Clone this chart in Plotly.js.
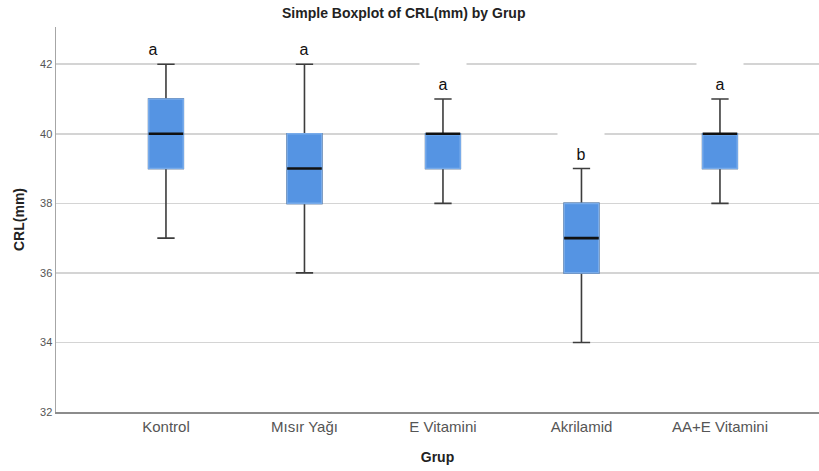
<!DOCTYPE html>
<html>
<head>
<meta charset="utf-8">
<script src="https://cdn.plot.ly/plotly-3.0.1.min.js"></script>
<style>html,body{margin:0;padding:0;background:#fff;}#chart{width:819px;height:471px;}</style>
</head>
<body>
<div id="chart"></div>
<script>
// Data
const categories = ["Kontrol", "Mısır Yağı", "E Vitamini", "Akrilamid", "AA+E Vitamini"];
const lowerWhisker = [37, 36, 38, 34, 38];
const q1Values     = [39, 38, 39, 36, 39];
const medians      = [40, 39, 40, 37, 40];
const q3Values     = [41, 40, 40, 38, 40];
const upperWhisker = [42, 42, 41, 39, 41];
const groupLetters = ["a", "a", "a", "b", "a"];

const boxFill = "#5594e3";
const boxEdge = "#78abea";
const whiskerColor = "#3d3d3d";
const boxWidth = 0.25;

// Trace A: whiskers + caps (dark)
const whiskers = {
  type: "box", x: categories,
  q1: q1Values, median: medians, q3: q3Values,
  lowerfence: lowerWhisker, upperfence: upperWhisker,
  width: boxWidth, whiskerwidth: 0.5,
  fillcolor: boxFill, line: {color: whiskerColor, width: 1.6},
  boxpoints: false, hoverinfo: "skip", showlegend: false
};
// Trace B: box body with light edge
const bodies = {
  type: "box", x: categories,
  q1: q1Values, median: medians, q3: q3Values,
  lowerfence: q1Values, upperfence: q3Values,
  width: boxWidth, whiskerwidth: 0,
  fillcolor: boxFill, line: {color: boxEdge, width: 1.6},
  boxpoints: false, hoverinfo: "skip", showlegend: false
};
// Trace C: black median line
const medianLines = {
  type: "box", x: categories,
  q1: medians, median: medians, q3: medians,
  lowerfence: medians, upperfence: medians,
  width: boxWidth, whiskerwidth: 0,
  fillcolor: "rgba(0,0,0,0)", line: {color: "#111111", width: 2.6},
  boxpoints: false, hoverinfo: "skip", showlegend: false
};

const annotations = groupLetters.map((t, i) => ({
  x: categories[i], y: upperWhisker[i], xref: "x", yref: "y",
  text: t, showarrow: false,
  font: {family: "Liberation Sans, Arial, sans-serif", size: 16, color: "#111"},
  bgcolor: i < 2 ? "rgba(0,0,0,0)" : "#ffffff",
  width: 46, height: 34, valign: "bottom", borderpad: 0,
  yanchor: "bottom", yshift: 5,
  xshift: i === 0 ? -13 : 0
}));

const layout = {
  width: 819, height: 471,
  margin: {l: 56, r: 0, t: 27, b: 59},
  paper_bgcolor: "#ffffff", plot_bgcolor: "#ffffff",
  font: {family: "Liberation Sans, Arial, sans-serif", color: "#444"},
  title: {
    text: "<b>Simple Boxplot of CRL(mm) by Grup</b>",
    font: {size: 14, color: "#222"},
    x: 0.493, xanchor: "center", y: 0.972, yanchor: "middle"
  },
  boxmode: "overlay",
  xaxis: {
    type: "category", range: [-0.794, 4.715],
    showgrid: false, zeroline: false,
    showline: true, linecolor: "#8c8c8c", linewidth: 2,
    ticks: "", tickfont: {size: 15, color: "#555"},
    title: {text: "<b>Grup</b>", font: {size: 14, color: "#222"}, standoff: 18}
  },
  yaxis: {
    range: [32, 43.07],
    tickvals: [32, 34, 36, 38, 40, 42],
    showgrid: true, gridcolor: "#d4d4d4", gridwidth: 1.5,
    zeroline: false,
    showline: true, linecolor: "#a6a6a6", linewidth: 1.5,
    ticks: "", tickfont: {size: 11, color: "#555"},
    title: {text: "<b>CRL(mm)</b>", font: {size: 14, color: "#222"}, standoff: 12}
  },
  annotations: annotations,
  hovermode: false
};

Plotly.newPlot("chart", [whiskers, bodies, medianLines], layout, {displayModeBar: false, staticPlot: true});
</script>
</body>
</html>
